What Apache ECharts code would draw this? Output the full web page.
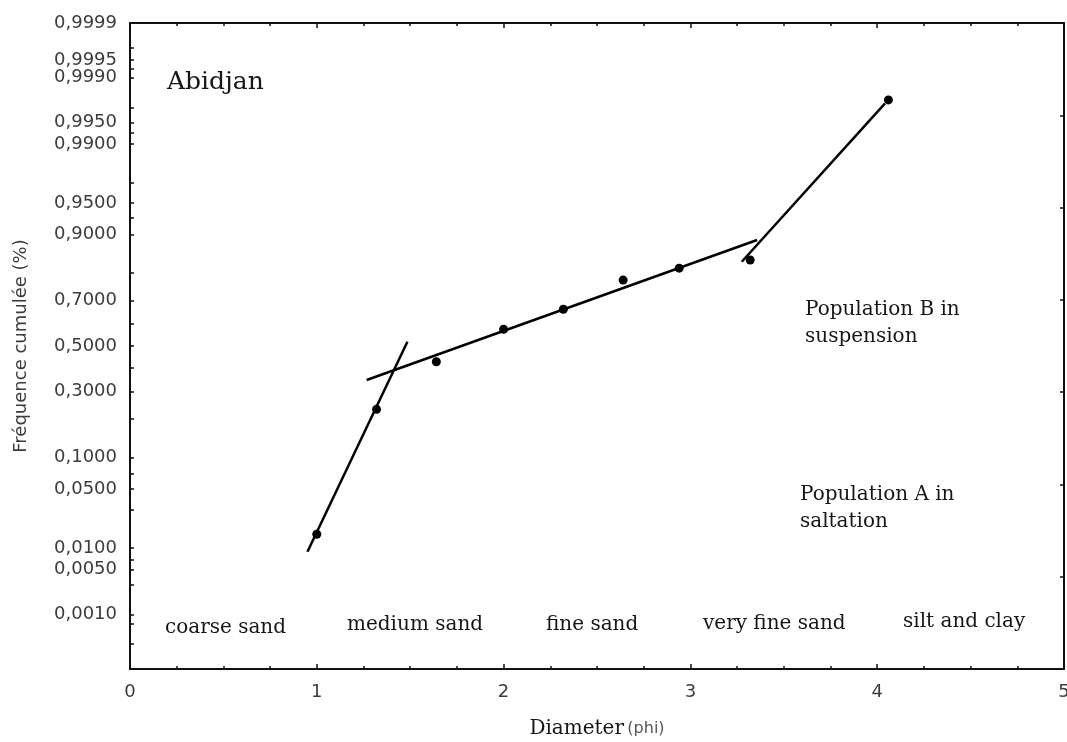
<!DOCTYPE html>
<html>
<head>
<meta charset="utf-8">
<script src="https://cdn.jsdelivr.net/npm/echarts@6/dist/echarts.min.js"></script>
<style>
  html, body { margin: 0; padding: 0; background: #fff; }
  #chart { width: 1067px; height: 742px; }
</style>
</head>
<body>
<div id="chart"></div>
<script>
// Sieve diameters (phi) and cumulative frequency of the Abidjan sample
const diameters = [1.0, 1.32, 1.64, 2.0, 2.32, 2.64, 2.94, 3.32, 4.06];
const cumFreq = [0.0151, 0.233, 0.428, 0.576, 0.664, 0.776, 0.815, 0.839, 0.9977];

// Fitted straight segments (population A, population B, fine tail)
const segA_x = [0.95, 1.485];
const segA_p = [0.0089, 0.5197];
const segB_x = [1.267, 3.357];
const segB_p = [0.3477, 0.8889];
const segC_x = [3.275, 4.042];
const segC_p = [0.834, 0.9974];

// Probability-scale ticks
const probLabels = [0.001, 0.005, 0.01, 0.05, 0.1, 0.3, 0.5, 0.7, 0.9, 0.95, 0.99, 0.995, 0.999, 0.9995, 0.9999];
const probMinor = [0.0003, 0.0007, 0.003, 0.007, 0.03, 0.07, 0.2, 0.4, 0.6, 0.8, 0.93, 0.97, 0.993, 0.997, 0.9993, 0.9997];
const probMin = 0.0001;
const probMax = 0.9999;

// Grain-size classes and notes
const classNames = ['coarse sand', 'medium sand', 'fine sand', 'very fine sand', 'silt and clay'];
const title = 'Abidjan';
const popB = ['Population B in', 'suspension'];
const popA = ['Population A in', 'saltation'];

// Inverse of the standard normal CDF (Acklam's rational approximation)
function probit(p) {
  const a = [-3.969683028665376e+01, 2.209460984245205e+02, -2.759285104469687e+02, 1.383577518672690e+02, -3.066479806614716e+01, 2.506628277459239e+00];
  const b = [-5.447609879822406e+01, 1.615858368580409e+02, -1.556989798598866e+02, 6.680131188771972e+01, -1.328068155288572e+01];
  const c = [-7.784894002430293e-03, -3.223964580411365e-01, -2.400758277161838e+00, -2.549732539343734e+00, 4.374664141464968e+00, 2.938163982698783e+00];
  const d = [7.784695709041462e-03, 3.224671290700398e-01, 2.445134137142996e+00, 3.754408661907416e+00];
  const pl = 0.02425, ph = 1 - pl;
  let q, r;
  if (p < pl) {
    q = Math.sqrt(-2 * Math.log(p));
    return (((((c[0] * q + c[1]) * q + c[2]) * q + c[3]) * q + c[4]) * q + c[5]) /
      ((((d[0] * q + d[1]) * q + d[2]) * q + d[3]) * q + 1);
  }
  if (p <= ph) {
    q = p - 0.5; r = q * q;
    return (((((a[0] * r + a[1]) * r + a[2]) * r + a[3]) * r + a[4]) * r + a[5]) * q /
      (((((b[0] * r + b[1]) * r + b[2]) * r + b[3]) * r + b[4]) * r + 1);
  }
  q = Math.sqrt(-2 * Math.log(1 - p));
  return -(((((c[0] * q + c[1]) * q + c[2]) * q + c[3]) * q + c[4]) * q + c[5]) /
    ((((d[0] * q + d[1]) * q + d[2]) * q + d[3]) * q + 1);
}

const pairs = (xs, ps) => xs.map((x, i) => [x, probit(ps[i])]);
const labelZ = probLabels.map(probit);
const tickZ = probLabels.concat(probMinor).map(probit);

function probText(z) {
  let best = 0;
  labelZ.forEach((v, i) => { if (Math.abs(v - z) < Math.abs(labelZ[best] - z)) best = i; });
  return probLabels[best].toFixed(4).replace('.', ',');
}

const serif = 'DejaVu Serif';
const sans = 'DejaVu Sans';
const axisLine = { show: true, onZero: false, lineStyle: { color: '#111', width: 2 } };
const tickStyle = { color: '#111', width: 1.5 };

const textEl = (txt, x, y, size) => ({
  type: 'text', x: x, y: y, silent: true,
  style: { text: txt, font: size + 'px "' + serif + '"', fill: '#161616', verticalAlign: 'middle', align: 'left' }
});

const classPos = [[165, 628], [347, 625], [546, 625], [703, 624], [903, 622]];

const chart = echarts.init(document.getElementById('chart'));
chart.setOption({
  animation: false,
  backgroundColor: '#fff',
  grid: { left: 130, right: 3, top: 23, bottom: 73, containLabel: false, outerBoundsMode: 'none' },
  xAxis: [{
    type: 'value', min: 0, max: 5, interval: 1, position: 'bottom',
    axisLine: axisLine,
    axisTick: { inside: true, length: 5, lineStyle: tickStyle },
    minorTick: { show: true, splitNumber: 4, length: 3, lineStyle: tickStyle },
    splitLine: { show: false },
    axisLabel: { margin: 14, fontFamily: sans, fontSize: 18, color: '#3c3c3c', formatter: v => String(v) },
    name: '{a|Diameter} {b|(phi)}',
    nameLocation: 'middle', nameGap: 50,
    nameTextStyle: {
      rich: {
        a: { fontFamily: serif, fontSize: 20, color: '#161616' },
        b: { fontFamily: sans, fontSize: 16, color: '#555' }
      }
    }
  }, {
    type: 'value', min: 0, max: 5, interval: 1, position: 'top',
    axisLine: axisLine,
    axisTick: { inside: true, length: 5, lineStyle: tickStyle },
    minorTick: { show: true, splitNumber: 4, length: 3, lineStyle: tickStyle },
    splitLine: { show: false },
    axisLabel: { show: false }
  }],
  yAxis: [{
    type: 'value', min: probit(probMin), max: probit(probMax), position: 'left',
    axisLine: axisLine,
    axisTick: { inside: true, length: 4, customValues: tickZ, lineStyle: tickStyle },
    splitLine: { show: false },
    axisLabel: {
      customValues: labelZ, margin: 13, fontFamily: sans, fontSize: 18, color: '#3c3c3c',
      formatter: probText
    },
    name: 'Fréquence cumulée (%)',
    nameLocation: 'middle', nameGap: 100, nameRotate: 90,
    nameTextStyle: { fontFamily: sans, fontSize: 18, color: '#3c3c3c' }
  }, {
    type: 'value', min: 0, max: 7, interval: 1, position: 'right',
    axisLine: axisLine,
    axisTick: { inside: true, length: 4, lineStyle: tickStyle },
    splitLine: { show: false },
    axisLabel: { show: false }
  }],
  series: [
    { type: 'line', data: pairs(segA_x, segA_p), symbol: 'none', lineStyle: { color: '#000', width: 2.5 }, z: 2 },
    { type: 'line', data: pairs(segB_x, segB_p), symbol: 'none', lineStyle: { color: '#000', width: 2.5 }, z: 2 },
    { type: 'line', data: pairs(segC_x, segC_p), symbol: 'none', lineStyle: { color: '#000', width: 2.5 }, z: 2 },
    { type: 'scatter', data: pairs(diameters, cumFreq), symbol: 'circle', symbolSize: 9, itemStyle: { color: '#000', opacity: 1 }, z: 3 }
  ],
  graphic: [
    textEl(title, 167, 82, 25),
    textEl(popB[0], 805, 310, 20),
    textEl(popB[1], 805, 337, 20),
    textEl(popA[0], 800, 495, 20),
    textEl(popA[1], 800, 522, 20)
  ].concat(classNames.map((n, i) => textEl(n, classPos[i][0], classPos[i][1], 20)))
});
</script>
</body>
</html>
